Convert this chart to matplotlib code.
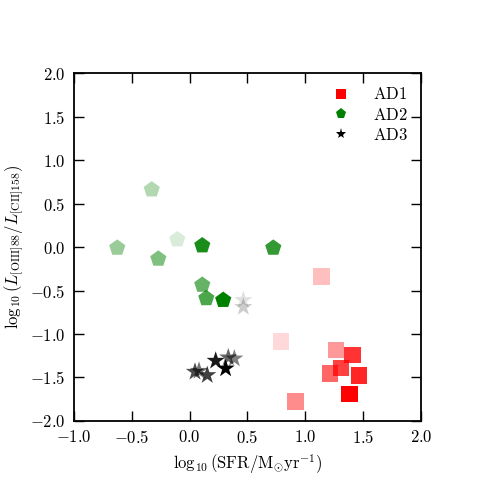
import matplotlib

matplotlib.use("Agg")
import matplotlib.pyplot as plt
from matplotlib.lines import Line2D
from matplotlib.colors import to_rgba

plt.rcParams.update({
    "font.family": "serif",
    "font.serif": ["cmr10", "DejaVu Serif"],
    "mathtext.fontset": "cm",
    "axes.formatter.use_mathtext": True,
    "font.size": 12,
})

# AD1 (squares)
ad1_x = [1.14, 0.79, 1.265, 1.41, 1.213, 1.308, 1.464, 1.38, 0.913]
ad1_y = [-0.34, -1.09, -1.185, -1.24, -1.455, -1.392, -1.473, -1.69, -1.78]
ad1_a = [0.25, 0.15, 0.4, 0.8, 0.6, 0.75, 0.85, 1.0, 0.45]

# AD2 (pentagons)
ad2_x = [-0.328, -0.107, -0.626, -0.271, 0.109, 0.723, 0.109, 0.144, 0.29]
ad2_y = [0.66, 0.086, -0.01, -0.136, 0.017, -0.01, -0.436, -0.59, -0.61]
ad2_a = [0.3, 0.15, 0.4, 0.5, 0.9, 0.8, 0.6, 0.7, 1.0]

# AD3 (stars)
ad3_x = [0.464, 0.464, 0.046, 0.081, 0.152, 0.225, 0.311, 0.334, 0.386]
ad3_y = [-0.61, -0.69, -1.435, -1.424, -1.473, -1.308, -1.397, -1.27, -1.282]
ad3_a = [0.12, 0.2, 0.7, 0.55, 0.75, 0.9, 1.0, 0.6, 0.5]


def rgba_list(color, alphas):
    return [to_rgba(color, a) for a in alphas]


fig = plt.figure(figsize=(4.95, 4.95), dpi=100)
ax = fig.add_axes([0.1495, 0.1495, 0.701, 0.703])

ax.scatter(ad1_x, ad1_y, s=145, marker="s", c=rgba_list("red", ad1_a), edgecolors="none")
ax.scatter(ad2_x, ad2_y, s=150, marker="p", c=rgba_list("green", ad2_a), edgecolors="none")
ax.scatter(ad3_x, ad3_y, s=190, marker="*", c=rgba_list("black", ad3_a), edgecolors="none")

ax.set_xlim(-1.0, 2.0)
ax.set_ylim(-2.0, 2.0)
ax.set_xticks([-1.0, -0.5, 0.0, 0.5, 1.0, 1.5, 2.0])
ax.set_yticks([-2.0, -1.5, -1.0, -0.5, 0.0, 0.5, 1.0, 1.5, 2.0])
ax.set_xticklabels([f"${v:.1f}$" for v in ax.get_xticks()])
ax.set_yticklabels([f"${v:.1f}$" for v in ax.get_yticks()])
ax.tick_params(direction="in", length=7, width=1, top=True, right=True, pad=6)
for sp in ax.spines.values():
    sp.set_linewidth(1.3)

ax.set_xlabel(r"$\log_{10}(\mathrm{SFR}/\mathrm{M_{\odot}yr^{-1}})$", fontsize=12)
ax.set_ylabel(r"$\log_{10}(L_{[\mathrm{OIII}]88}/L_{[\mathrm{CII}]158})$", fontsize=12)

handles = [
    Line2D([], [], linestyle="none", marker="s", color="red", markersize=7, markeredgewidth=0),
    Line2D([], [], linestyle="none", marker="p", color="green", markersize=8, markeredgewidth=0),
    Line2D([], [], linestyle="none", marker="*", color="black", markersize=8, markeredgewidth=0),
]
ax.legend(handles, [r"$\mathrm{AD1}$", r"$\mathrm{AD2}$", r"$\mathrm{AD3}$"],
          loc="upper right", frameon=False, fontsize=12, handletextpad=0.9,
          labelspacing=0.25, borderaxespad=0.4)

fig.savefig("out.png", dpi=100)
